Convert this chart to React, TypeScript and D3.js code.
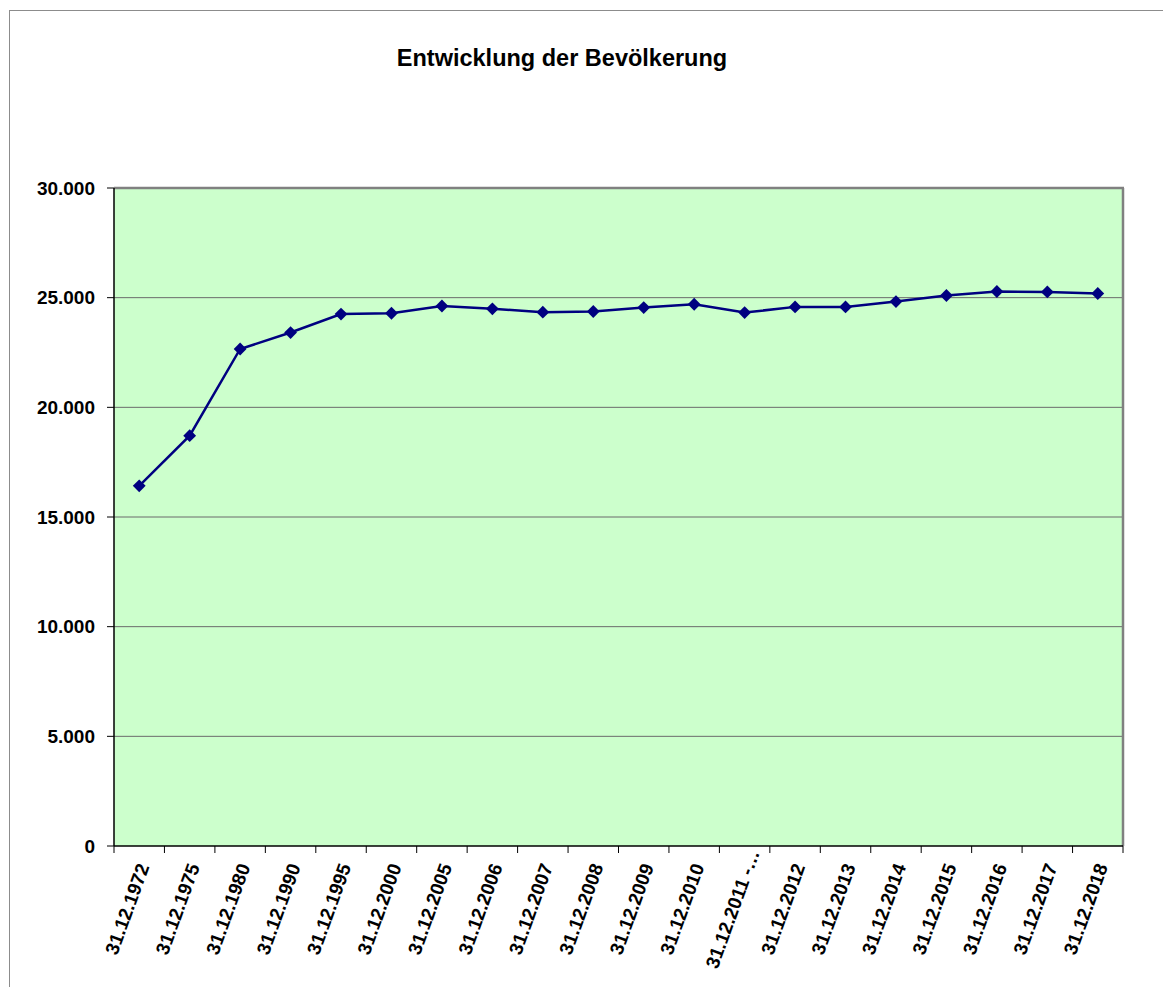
import React from "react";
import * as d3 from "d3";

const categories = [
  "31.12.1972", "31.12.1975", "31.12.1980", "31.12.1990", "31.12.1995",
  "31.12.2000", "31.12.2005", "31.12.2006", "31.12.2007", "31.12.2008",
  "31.12.2009", "31.12.2010", "31.12.2011 -…", "31.12.2012", "31.12.2013",
  "31.12.2014", "31.12.2015", "31.12.2016", "31.12.2017", "31.12.2018",
];
const population = [
  16420, 18710, 22660, 23410, 24250, 24290, 24620, 24490, 24340, 24370,
  24550, 24700, 24320, 24580, 24580, 24820, 25100, 25280, 25260, 25190,
];
const yTicks = [0, 5000, 10000, 15000, 20000, 25000, 30000];
const title = "Entwicklung der Bevölkerung";

const W = 1163;
const H = 987;
const plot = { left: 114, top: 188, right: 1123, bottom: 846 };
const font = "Arial, 'Liberation Sans', Helvetica, sans-serif";

export default function App() {
  const x = d3
    .scaleBand<string>()
    .domain(categories)
    .range([plot.left, plot.right])
    .paddingInner(0)
    .paddingOuter(0);
  const y = d3.scaleLinear().domain([0, 30000]).range([plot.bottom, plot.top]);
  const fmt = (v: number) =>
    v === 0 ? "0" : d3.format(",")(v).replace(/,/g, ".");
  const cx = (c: string) => (x(c) as number) + x.bandwidth() / 2;

  const line = d3
    .line<number>()
    .x((_, i) => cx(categories[i]))
    .y((d) => y(d));

  const marker = d3.symbol().type(d3.symbolSquare).size(82)();

  const boundaries = d3.range(categories.length + 1).map(
    (i) => plot.left + i * x.bandwidth()
  );

  return (
    <svg
      width={W}
      height={H}
      style={{ position: "absolute", left: 0, top: 0, background: "#fff" }}
      fontFamily={font}
    >
      <rect x={9.5} y={10.5} width={W + 20} height={H + 20} fill="#fff" stroke="#8c8c8c" strokeWidth={1} />
      <text x={562} y={66} textAnchor="middle" fontSize={23.5} fontWeight="bold" fill="#000">
        {title}
      </text>

      <rect
        x={plot.left}
        y={plot.top}
        width={plot.right - plot.left}
        height={plot.bottom - plot.top}
        fill="#CCFFCC"
      />
      {yTicks.slice(1, -1).map((t) => (
        <line key={t} x1={plot.left} x2={plot.right} y1={y(t)} y2={y(t)} stroke="#6b6b6b" strokeWidth={1} />
      ))}
      {/* top & right plot border */}
      <line x1={plot.left} x2={plot.right + 1} y1={plot.top} y2={plot.top} stroke="#808080" strokeWidth={2.5} />
      <line x1={plot.right} x2={plot.right} y1={plot.top} y2={plot.bottom} stroke="#808080" strokeWidth={2.5} />

      {/* axes */}
      <line x1={plot.left} x2={plot.left} y1={plot.top} y2={plot.bottom} stroke="#000" strokeWidth={1.5} />
      <line x1={plot.left} x2={plot.right} y1={plot.bottom} y2={plot.bottom} stroke="#000" strokeWidth={1.5} />

      {yTicks.map((t) => (
        <g key={t}>
          <line x1={plot.left - 7} x2={plot.left} y1={y(t)} y2={y(t)} stroke="#000" strokeWidth={1} />
          <text
            x={95}
            y={y(t)}
            textAnchor="end"
            dominantBaseline="central"
            fontSize={19}
            fontWeight="bold"
            fill="#000"
          >
            {fmt(t)}
          </text>
        </g>
      ))}

      {boundaries.map((b, i) => (
        <line key={i} x1={b} x2={b} y1={plot.bottom} y2={plot.bottom + 7} stroke="#000" strokeWidth={1} />
      ))}

      {categories.map((c) => (
        <text
          key={c}
          transform={`translate(${cx(c) - 12},${909}) rotate(-70)`}
          textAnchor="middle"
          dominantBaseline="central"
          fontSize={19}
          fontWeight="bold"
          fill="#000"
        >
          {c}
        </text>
      ))}

      <path d={line(population) || ""} fill="none" stroke="#000080" strokeWidth={2.5} />
      {population.map((v, i) => (
        <path
          key={i}
          d={marker || ""}
          transform={`translate(${cx(categories[i])},${y(v)}) rotate(45)`}
          fill="#000080"
        />
      ))}
    </svg>
  );
}
